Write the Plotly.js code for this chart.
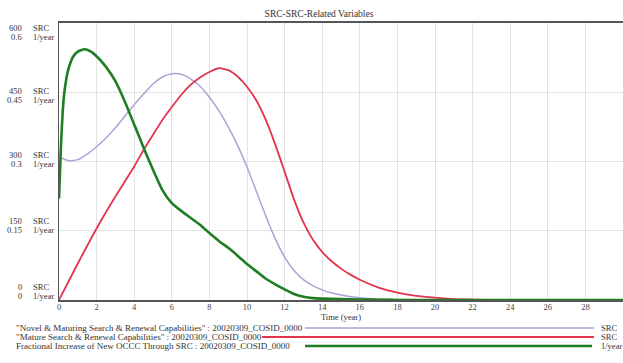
<!DOCTYPE html>
<html>
<head>
<meta charset="utf-8">
<script src="https://cdn.plot.ly/plotly-3.0.1.min.js"></script>
<style>html,body{margin:0;padding:0;background:#fff}#chart{width:623px;height:363px}</style>
</head>
<body>
<div id="chart"></div>
<script>
// ---- data ----
const novelTime = [0,0.5,1,1.5,2,2.5,3,3.5,4,4.5,5,5.5,6,6.5,7,7.5,8,8.5,9,9.5,10,10.5,11,11.5,12,12.5,13,13.5,14,14.5,15,16,17,18,20,30];
const novelSRC  = [310,302,304,316,332,351,373,398,423,446,468,483,490,489,479,463,439,410,375,335,288,235,182,133,93,64,44,31,22,15,11,5,2,1,0,0];

const matureTime = [0,1,2,3,4,4.5,5,5.5,6,6.5,7,7.5,8,8.5,9,9.5,10,10.5,11,11.5,12,12.5,13,13.5,14,14.5,15,15.5,16,17,18,19,20,21,22,23,30];
const matureSRC  = [0,79,155,224,289,325,358,390,418,444,466,482,494,502,498,484,462,432,390,337,278,218,168,131,104,84,68,55,44,27,16,9,5,2,1,0,0];

const fracTime = [0,0.1,0.2,0.3,0.5,0.75,1,1.35,1.7,2,2.5,3,3.5,4,4.5,5,5.5,6,6.5,7,7.5,8,8.5,9,9.5,10,10.5,11,11.5,12,12.5,13,13.5,14,15,16,17,18,30];
const fracRate = [0.22,0.33,0.41,0.455,0.50,0.527,0.538,0.543,0.538,0.528,0.505,0.474,0.43,0.38,0.33,0.282,0.238,0.21,0.193,0.178,0.163,0.145,0.128,0.113,0.096,0.078,0.062,0.046,0.034,0.023,0.013,0.007,0.004,0.003,0.002,0.001,0.0005,0,0];

const srcTicks  = [0,150,300,450,600];
const rateTicks = ['0','0.15','0.3','0.45','0.6'];
const xTicks = [0,2,4,6,8,10,12,14,16,18,20,22,24,26,28,30];

const legendNames = [
  '"Novel & Maturing Search & Renewal Capabilities" : 20020309_COSID_0000',
  '"Mature Search & Renewal Capabilities" : 20020309_COSID_0000',
  'Fractional Increase of New OCCC Through SRC : 20020309_COSID_0000'
];
const legendUnits = ['SRC','SRC','1/year'];

// ---- styles ----
const W = 623, H = 363, L = 59, R = 0, T = 23, B = 63;
const PW = W - L - R, PH = H - T - B;
const colors = ['#aaa3d8', '#e3344f', '#1f7d22'];
const widths = [1.5, 1.8, 2.6];
const FONT = '"Liberation Serif", serif';
const px2x = p => (p - L) / PW;
const px2y = p => (H - B - p) / PH;

const traces = [
  {x: novelTime, y: novelSRC, mode: 'lines', line: {color: colors[0], width: widths[0], shape: 'spline', smoothing: 0.6}, yaxis: 'y', hoverinfo: 'skip'},
  {x: matureTime, y: matureSRC, mode: 'lines', line: {color: colors[1], width: widths[1], shape: 'spline', smoothing: 0.6}, yaxis: 'y', hoverinfo: 'skip'},
  {x: fracTime, y: fracRate, mode: 'lines', line: {color: colors[2], width: widths[2], shape: 'spline', smoothing: 0.5}, yaxis: 'y2', hoverinfo: 'skip'}
];

const annotations = [];
const labelOffsets = [-8.5, -5, -2, 3, 9.5]; // screen px downward from tick
srcTicks.forEach((v, i) => {
  const d = labelOffsets[i];
  const rows = [[String(v), 'SRC', d - 4.3], [rateTicks[i], '1/year', d + 4.3]];
  rows.forEach(r => {
    annotations.push({xref: 'paper', yref: 'y', x: px2x(23), y: v, yshift: -r[2], xanchor: 'right', yanchor: 'middle',
      text: r[0], showarrow: false, font: {family: FONT, size: 8.5, color: '#333'}, borderpad: 0});
    annotations.push({xref: 'paper', yref: 'y', x: px2x(32), y: v, yshift: -r[2], xanchor: 'left', yanchor: 'middle',
      text: r[1], showarrow: false, font: {family: FONT, size: 8.5, color: '#333'}, borderpad: 0});
  });
});

const legendRowsY = [328, 337, 346];
const legendLineStart = [305, 262, 305];
const legendLineEnd = [594, 594, 592];
const shapes = [];
legendNames.forEach((name, i) => {
  annotations.push({xref: 'paper', yref: 'paper', x: px2x(15), y: px2y(legendRowsY[i]), xanchor: 'left', yanchor: 'middle',
    text: name, showarrow: false, font: {family: FONT, size: 9, color: '#333'}, borderpad: 0});
  annotations.push({xref: 'paper', yref: 'paper', x: px2x(600), y: px2y(legendRowsY[i]), xanchor: 'left', yanchor: 'middle',
    text: legendUnits[i], showarrow: false, font: {family: FONT, size: 8.5, color: '#333'}, borderpad: 0});
  shapes.push({type: 'line', xref: 'paper', yref: 'paper', x0: px2x(legendLineStart[i]), x1: px2x(legendLineEnd[i]),
    y0: px2y(legendRowsY[i]), y1: px2y(legendRowsY[i]), line: {color: colors[i], width: widths[i]}});
});

const layout = {
  width: W, height: H,
  margin: {l: L, r: R, t: T, b: B, pad: 0},
  paper_bgcolor: '#fff', plot_bgcolor: '#fff',
  showlegend: false,
  title: {text: 'SRC-SRC-Related Variables', x: 319 / W, xanchor: 'center', y: 1 - 14 / H, yanchor: 'middle',
    font: {family: FONT, size: 9.5, color: '#333'}},
  xaxis: {range: [0, 30], tickvals: xTicks, ticktext: xTicks.map(String), showgrid: true, gridcolor: '#e2e2e2', gridwidth: 1,
    showline: true, linecolor: '#555', linewidth: 2, mirror: true, ticks: '', zeroline: false,
    tickfont: {family: FONT, size: 8.5, color: '#444'}, ticklabelstandoff: -2,
    title: {text: 'Time (year)', standoff: 0, font: {family: FONT, size: 8.5, color: '#333'}}},
  yaxis: {range: [0, 600], tickvals: srcTicks, showticklabels: false, showgrid: true, gridcolor: '#e2e2e2', gridwidth: 1,
    showline: true, linecolor: '#555', linewidth: 1.5, mirror: false, ticks: '', zeroline: false},
  yaxis2: {range: [0, 0.6], overlaying: 'y', side: 'left', visible: false, showgrid: false, zeroline: false},
  annotations: annotations,
  shapes: shapes
};

Plotly.newPlot('chart', traces, layout, {displayModeBar: false, staticPlot: true});
</script>
</body>
</html>
